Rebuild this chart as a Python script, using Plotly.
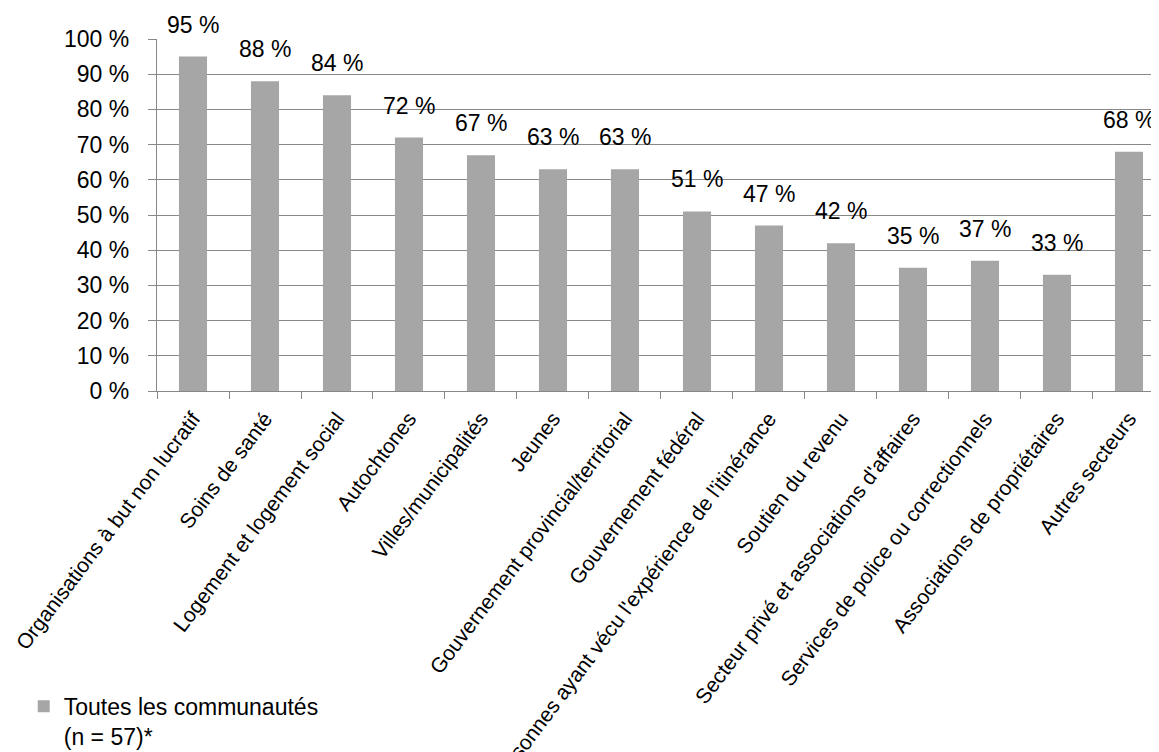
import plotly.graph_objects as go

categories = [
    "Organisations à but non lucratif",
    "Soins de santé",
    "Logement et logement social",
    "Autochtones",
    "Villes/municipalités",
    "Jeunes",
    "Gouvernement provincial/territorial",
    "Gouvernement fédéral",
    "Personnes ayant vécu l'expérience de l'itinérance",
    "Soutien du revenu",
    "Secteur privé et associations d'affaires",
    "Services de police ou correctionnels",
    "Associations de propriétaires",
    "Autres secteurs",
]
values = [95, 88, 84, 72, 67, 63, 63, 51, 47, 42, 35, 37, 33, 68]
series_name = "Toutes les communautés<br>(n = 57)*"
y_ticks = [0, 10, 20, 30, 40, 50, 60, 70, 80, 90, 100]

FONT = "Liberation Sans, Arial, sans-serif"
BAR = "#a6a6a6"
GRID = "#888888"

fig = go.Figure()
fig.add_trace(go.Bar(
    x=categories, y=values, name=series_name,
    marker=dict(color=BAR, line=dict(width=0)),
    width=0.39, showlegend=True,
))

for c, v in zip(categories, values):
    fig.add_annotation(
        x=c, y=v, text=f"{v} %", showarrow=False,
        yanchor="bottom", yshift=17, xanchor="center",
        font=dict(family=FONT, size=23, color="#000000"),
    )

fig.update_layout(
    width=1151, height=744,
    margin=dict(l=149, r=0, t=31, b=361, autoexpand=False),
    paper_bgcolor="white", plot_bgcolor="white",
    font=dict(family=FONT, size=23, color="#000000"),
    bargap=0.61,
    showlegend=True,
    legend=dict(
        x=-0.133, y=-0.835, xanchor="left", yanchor="top",
        font=dict(family=FONT, size=23, color="#000000"),
        itemwidth=30, bgcolor="rgba(0,0,0,0)", tracegroupgap=0,
        valign="top",
    ),
    xaxis=dict(
        type="category", range=[-0.5, 13.417], automargin=False,
        tickson="boundaries", ticks="outside", ticklen=7, tickcolor=GRID, tickwidth=1,
        showline=True, linecolor=GRID, linewidth=1.3,
        showgrid=False, tickangle=-53, ticklabelstandoff=6,
        tickfont=dict(family=FONT, size=21, color="#000000"),
    ),
    yaxis=dict(
        range=[0, 100], tickvals=y_ticks, ticktext=[f"{t} %" for t in y_ticks],
        automargin=False,
        ticks="outside", ticklen=8, tickcolor=GRID, tickwidth=1,
        showline=True, linecolor=GRID, linewidth=1.3,
        showgrid=True, gridcolor=GRID, gridwidth=1.3,
        zeroline=False, ticklabelstandoff=14,
        tickfont=dict(family=FONT, size=23, color="#000000"),
    ),
)

fig.write_html("out.html")
